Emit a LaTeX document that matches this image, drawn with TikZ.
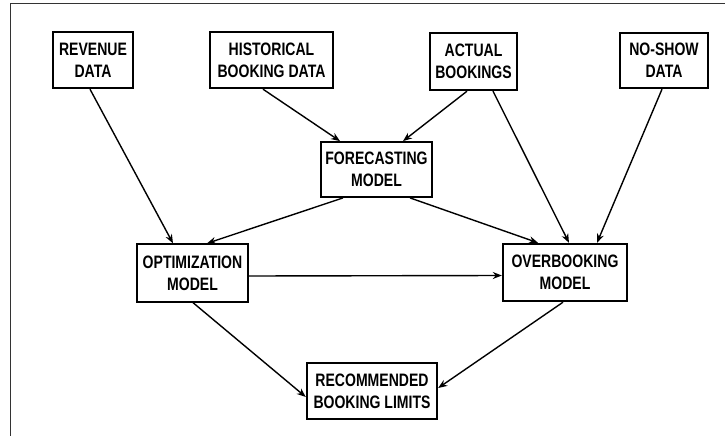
\documentclass[tikz,border=0pt]{standalone}
\usepackage{fontspec}
\setmainfont[FakeStretch=0.78]{Liberation Sans}
\usetikzlibrary{arrows.meta}
\begin{document}
\begin{tikzpicture}[x=1pt,y=-1pt,
  box/.style={draw,line width=2.4pt,rectangle,align=center,inner sep=0pt,
    font=\fontsize{18}{22}\selectfont\bfseries},
  thinbox/.style={box,line width=1.3pt},
  arr/.style={line width=1.4pt,-{Stealth[length=9pt,width=7pt]}},
  frame/.style={line width=1pt,black!80}]
\useasboundingbox (0,0) rectangle (725,436);
% frame
\coordinate (ftl) at (10,4);
\coordinate (ftr) at (725,4);
\coordinate (fbl) at (10,436);
\draw[frame] (ftr) -- (ftl) -- (fbl);
% nodes
\node[box,minimum width=80pt,minimum height=56pt] (rev) at (93,60) {REVENUE\\DATA};
\node[box,minimum width=123pt,minimum height=56pt] (hist) at (271.5,60) {HISTORICAL\\BOOKING DATA};
\node[box,minimum width=87pt,minimum height=57pt] (act) at (473.5,61.5) {ACTUAL\\BOOKINGS};
\node[box,minimum width=88pt,minimum height=55pt] (nos) at (664,60.5) {NO-SHOW\\DATA};
\node[box,line width=1.8pt,minimum width=111pt,minimum height=55pt] (fore) at (376.5,169.5) {FORECASTING\\MODEL};
\node[thinbox,minimum width=111pt,minimum height=58pt] (opt) at (192.5,273) {OPTIMIZATION\\MODEL};
\node[box,minimum width=124pt,minimum height=57pt] (over) at (565,272.5) {OVERBOOKING\\MODEL};
\node[box,minimum width=130pt,minimum height=56pt] (rec) at (372,391) {RECOMMENDED\\BOOKING LIMITS};
% connectors
\draw[arr] ([xshift=-3pt]rev.south) -- ([xshift=-19.5pt]opt.north);
\draw[arr] ([xshift=-8.5pt]hist.south) -- ([xshift=-36.5pt]fore.north);
\draw[arr] ([xshift=-6.5pt]act.south) -- ([xshift=26.5pt]fore.north);
\draw[arr] ([xshift=19.5pt]act.south) -- ([xshift=4pt]over.north);
\draw[arr] ([xshift=-2pt]nos.south) -- ([xshift=32pt]over.north);
\draw[arr] ([xshift=-33.5pt]fore.south) -- ([xshift=14.5pt]opt.north);
\draw[arr] ([xshift=33.5pt]fore.south) -- ([xshift=-27pt]over.north);
\draw[arr] ([yshift=-3pt]opt.east) -- ([yshift=-3pt]over.west);
\draw[arr] ([xshift=0.5pt]opt.south) -- ([yshift=-6pt]rec.west);
\draw[arr] ([xshift=-2pt]over.south) -- ([yshift=3pt]rec.east);
\end{tikzpicture}
\end{document}
